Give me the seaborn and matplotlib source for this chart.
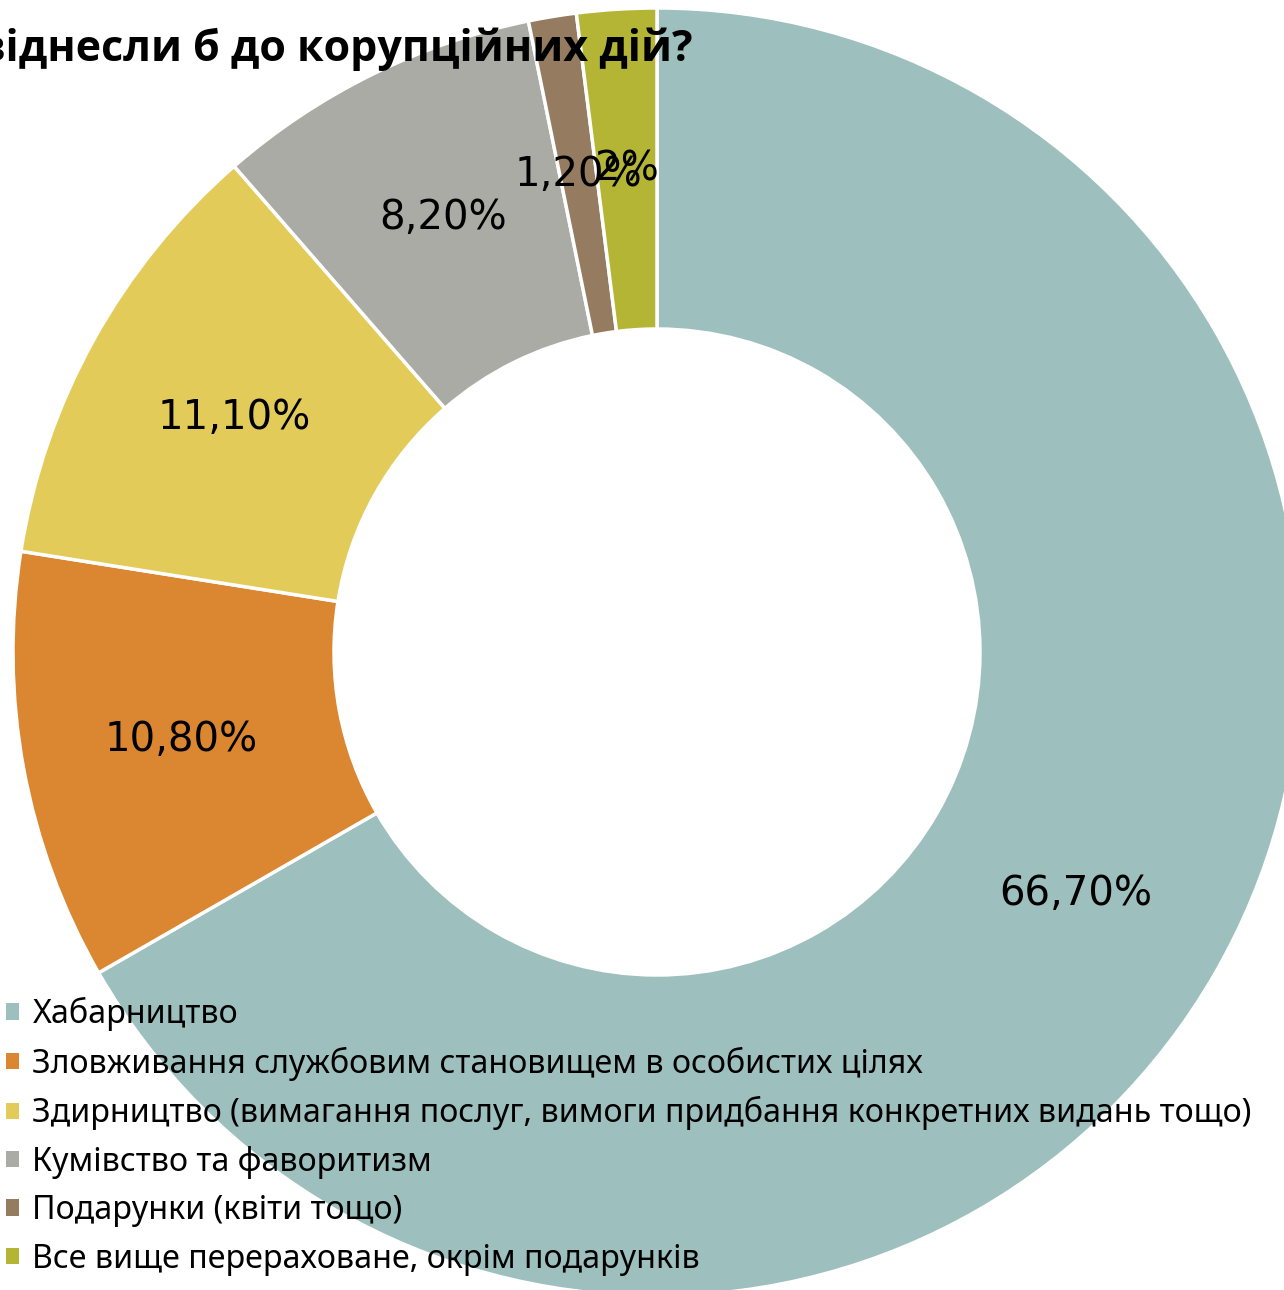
import matplotlib
matplotlib.use("Agg")
import matplotlib.pyplot as plt
import seaborn as sns
import numpy as np
from matplotlib.patches import Patch

categories = [
    "Хабарництво",
    "Зловживання службовим становищем в особистих цілях",
    "Здирництво (вимагання послуг, вимоги придбання конкретних видань тощо)",
    "Кумівство та фаворитизм",
    "Подарунки (квіти тощо)",
    "Все вище перераховане, окрім подарунків",
]
values = [66.7, 10.8, 11.1, 8.2, 1.2, 2.0]
value_labels = ["66,70%", "10,80%", "11,10%", "8,20%", "1,20%", "2%"]
colors = ["#9DBFBE", "#DB8630", "#E3CB5A", "#ABABA5", "#957B60", "#B5B535"]
title = "віднесли б до корупційних дій?"

sns.set_theme(style="white")
plt.rcParams["font.family"] = ["DejaVu Sans"]
plt.rcParams["text.color"] = "black"

W, H = 1284, 1290
fig = plt.figure(figsize=(W / 100, H / 100), dpi=100)
ax = fig.add_axes([0, 0, 1, 1])

cx, cy, R = 657, H - 652, 644
width = 321
wedges, _ = ax.pie(
    values, colors=colors, startangle=90, counterclock=False,
    radius=R, center=(cx, cy),
    wedgeprops=dict(width=width, edgecolor="white", linewidth=2.5),
)
ax.set_xlim(0, W)
ax.set_ylim(0, H)
ax.set_aspect("auto")
ax.axis("off")

rl = R - width / 2
for w, lab in zip(wedges, value_labels):
    th = np.deg2rad((w.theta1 + w.theta2) / 2)
    ax.text(cx + rl * np.cos(th), cy + rl * np.sin(th), lab,
            ha="center", va="center", fontsize=29, color="black",
            family=["DejaVu Sans"])

fig.text(693 / W, 1 - 61 / H, title, ha="right", va="baseline", color="black",
         fontsize=31, fontweight="bold", family=["Open Sans", "DejaVu Sans"])

handles = [Patch(facecolor=c, edgecolor="none") for c in colors]
fig.legend(handles, categories, loc="upper left",
           bbox_to_anchor=(6 / W, 1 - 997 / H), frameon=False,
           prop=dict(family=["Noto Sans", "DejaVu Sans"], size=23.2),
           labelcolor="black",
           handlelength=0.4, handleheight=0.4, handletextpad=0.42,
           labelspacing=0.48, borderpad=0, borderaxespad=0)

fig.savefig("out.png", dpi=100)
